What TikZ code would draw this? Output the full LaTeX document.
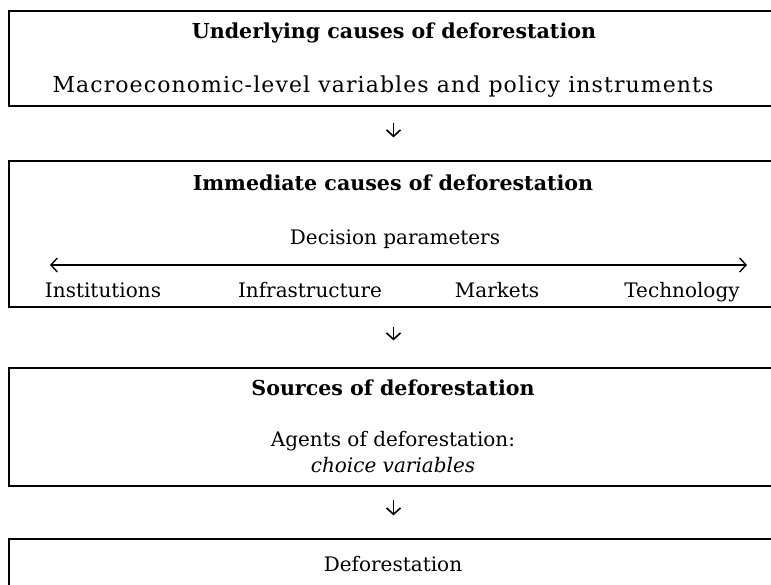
\documentclass[tikz,border=0pt]{standalone}
\usepackage{fontspec}
\setmainfont{DejaVu Serif}
\usetikzlibrary{arrows.meta,positioning}

\begin{document}
\begin{tikzpicture}[x=0.5pt,y=-0.5pt,line width=0.6pt,
	>={Straight Barb[length=3.2pt,width=7pt]},
	box/.style={draw,rectangle,minimum width=384.5pt,inner sep=0pt},
	title/.style={anchor=base,font=\fontsize{10.3}{13}\selectfont\bfseries},
	txt/.style={anchor=base,font=\fontsize{10}{13}\selectfont},
	flow/.style={line width=0.8pt}]
	\clip (0,0) rectangle (771,584);

	% the four boxes
	\node[box,minimum height=47.5pt]	(under)		at (393.5,58.5)	{};
	\node[box,minimum height=73pt]		(immed)		at (393.5,234)	{};
	\node[box,minimum height=59pt]		(sources)	at (393.5,427)	{};
	\node[box,minimum height=40pt]		(defor)		at (393.5,579)	{};

	% texts
	\node[title]	(underT)	at (394,38)		{Underlying causes of deforestation};
	\node[txt,font=\fontsize{11}{13}\selectfont\addfontfeature{LetterSpace=5}] (macro) at (383,92)
		{Macroeconomic-level variables and policy instruments};
	\node[title]	(immedT)	at (393,190)	{Immediate causes of deforestation};
	\node[txt]		(decision)	at (395,244)	{Decision parameters};
	\node[txt]		(inst)		at (103,297)	{Institutions};
	\node[txt]		(infra)		at (310,297)	{Infrastructure};
	\node[txt]		(markets)	at (497,297)	{Markets};
	\node[txt]		(tech)		at (682,297)	{Technology};
	\node[title]	(sourcesT)	at (393,395)	{Sources of deforestation};
	\node[txt,align=center] (agents) at (393,472) {Agents of deforestation:\\ \textit{choice variables}};
	\node[txt]		(deforT)	at (393,571)	{Deforestation};

	\coordinate (dpl) at (50,265);
	\coordinate (dpr) at (747,265);

\draw[line width=0.7pt,<->] (dpl) -- (dpr);
\path[flow,->]
	(under)		edge[shorten <=8pt,shorten >=11.5pt]	(immed)
	(immed)		edge[shorten <=9.5pt,shorten >=13.5pt]	(sources)
	(sources)	edge[shorten <=6.5pt,shorten >=11.5pt]	(defor)
;
\end{tikzpicture}
\end{document}
